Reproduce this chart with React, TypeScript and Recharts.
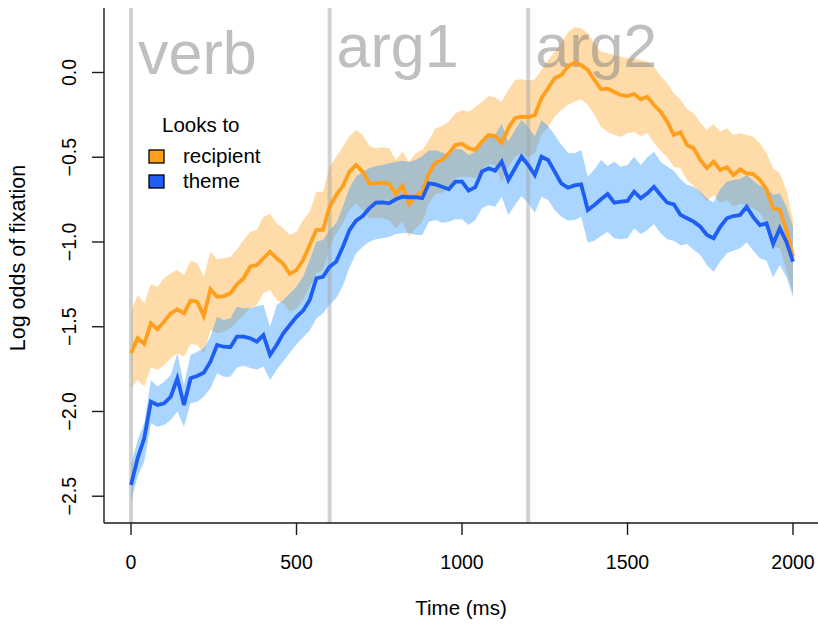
import { Area, ComposedChart, Line, ReferenceLine, XAxis, YAxis } from "recharts";

// time bins (ms)
const timeMs = [
  0, 20, 40, 60, 80, 100, 120, 140, 160, 180, 200, 220, 240, 260, 280, 300, 320, 340, 360, 380,
  400, 420, 440, 460, 480, 500, 520, 540, 560, 580, 600, 620, 640, 660, 680, 700, 720, 740, 760, 780,
  800, 820, 840, 860, 880, 900, 920, 940, 960, 980, 1000, 1020, 1040, 1060, 1080, 1100, 1120, 1140, 1160, 1180,
  1200, 1220, 1240, 1260, 1280, 1300, 1320, 1340, 1360, 1380, 1400, 1420, 1440, 1460, 1480, 1500, 1520, 1540, 1560, 1580,
  1600, 1620, 1640, 1660, 1680, 1700, 1720, 1740, 1760, 1780, 1800, 1820, 1840, 1860, 1880, 1900, 1920, 1940, 1960, 1980,
  2000,
];

const recipientMean = [
  -1.657, -1.568, -1.602, -1.48, -1.515, -1.47, -1.421, -1.397, -1.421, -1.346, -1.352, -1.437, -1.279, -1.323, -1.319, -1.303, -1.25, -1.214, -1.146, -1.136,
  -1.096, -1.057, -1.096, -1.13, -1.189, -1.165, -1.106, -1.018, -0.929, -0.929, -0.792, -0.723, -0.67, -0.585, -0.546, -0.585, -0.654, -0.654, -0.65, -0.658,
  -0.717, -0.668, -0.776, -0.729, -0.703, -0.595, -0.532, -0.516, -0.477, -0.428, -0.42, -0.447, -0.457, -0.408, -0.369, -0.375, -0.414, -0.329, -0.27, -0.261,
  -0.264, -0.251, -0.152, -0.093, -0.034, -0.015, 0.036, 0.058, 0.044, 0.015, -0.044, -0.099, -0.095, -0.115, -0.133, -0.139, -0.127, -0.158, -0.143, -0.192,
  -0.231, -0.29, -0.369, -0.352, -0.428, -0.447, -0.516, -0.565, -0.526, -0.575, -0.559, -0.605, -0.571, -0.595, -0.599, -0.634, -0.689, -0.801, -0.811, -0.929,
  -1.087,
];
const recipientUpper = [
  -1.411, -1.313, -1.362, -1.248, -1.264, -1.214, -1.185, -1.165, -1.195, -1.11, -1.126, -1.205, -1.057, -1.102, -1.096, -1.087, -1.044, -0.988, -0.939, -0.929,
  -0.851, -0.835, -0.89, -0.919, -0.959, -0.939, -0.87, -0.821, -0.703, -0.703, -0.556, -0.497, -0.438, -0.374, -0.339, -0.369, -0.434, -0.447, -0.441, -0.447,
  -0.516, -0.467, -0.526, -0.477, -0.457, -0.398, -0.329, -0.316, -0.29, -0.241, -0.223, -0.231, -0.205, -0.172, -0.139, -0.146, -0.172, -0.103, -0.044, -0.04,
  -0.048, -0.04, 0.015, 0.074, 0.123, 0.176, 0.238, 0.267, 0.261, 0.231, 0.172, 0.123, 0.113, 0.103, 0.093, 0.084, 0.084, 0.074, 0.064, 0.034,
  -0.021, -0.064, -0.123, -0.16, -0.217, -0.241, -0.296, -0.339, -0.304, -0.349, -0.329, -0.369, -0.359, -0.369, -0.379, -0.418, -0.477, -0.565, -0.595, -0.693,
  -0.87,
];
const recipientLower = [
  -1.863, -1.814, -1.853, -1.741, -1.755, -1.726, -1.686, -1.657, -1.677, -1.602, -1.608, -1.657, -1.519, -1.539, -1.529, -1.509, -1.47, -1.431, -1.391, -1.372,
  -1.303, -1.283, -1.342, -1.362, -1.411, -1.391, -1.342, -1.264, -1.185, -1.165, -1.028, -0.949, -0.89, -0.81, -0.772, -0.811, -0.86, -0.86, -0.86, -0.87,
  -0.919, -0.88, -0.969, -0.919, -0.88, -0.772, -0.717, -0.709, -0.683, -0.624, -0.615, -0.615, -0.624, -0.575, -0.54, -0.546, -0.644, -0.556, -0.497, -0.477,
  -0.497, -0.477, -0.369, -0.32, -0.261, -0.221, -0.19, -0.172, -0.158, -0.192, -0.251, -0.323, -0.349, -0.369, -0.379, -0.359, -0.349, -0.375, -0.359, -0.414,
  -0.461, -0.5, -0.556, -0.565, -0.634, -0.67, -0.713, -0.756, -0.723, -0.768, -0.752, -0.792, -0.772, -0.788, -0.801, -0.831, -0.89, -1.028, -1.037, -1.165,
  -1.303,
];

const themeMean = [
  -2.434, -2.276, -2.158, -1.942, -1.962, -1.952, -1.913, -1.804, -1.962, -1.804, -1.791, -1.771, -1.706, -1.608, -1.618, -1.621, -1.558, -1.558, -1.568, -1.588,
  -1.549, -1.667, -1.608, -1.539, -1.49, -1.441, -1.405, -1.342, -1.214, -1.205, -1.146, -1.116, -1.028, -0.93, -0.874, -0.847, -0.801, -0.768, -0.766, -0.772,
  -0.748, -0.733, -0.736, -0.736, -0.742, -0.654, -0.66, -0.674, -0.689, -0.644, -0.644, -0.697, -0.677, -0.585, -0.565, -0.579, -0.526, -0.634, -0.565, -0.497,
  -0.546, -0.605, -0.497, -0.516, -0.585, -0.654, -0.68, -0.666, -0.66, -0.811, -0.782, -0.748, -0.717, -0.768, -0.762, -0.758, -0.703, -0.742, -0.713, -0.674,
  -0.723, -0.768, -0.778, -0.84, -0.86, -0.88, -0.91, -0.959, -0.978, -0.91, -0.86, -0.847, -0.841, -0.792, -0.854, -0.9, -0.89, -1.012, -0.919, -0.998,
  -1.116,
];
const themeUpper = [
  -2.316, -2.168, -2.07, -1.814, -1.853, -1.824, -1.785, -1.657, -1.844, -1.667, -1.647, -1.627, -1.559, -1.441, -1.46, -1.45, -1.382, -1.391, -1.391, -1.378,
  -1.372, -1.5, -1.372, -1.342, -1.303, -1.264, -1.205, -1.106, -0.998, -0.988, -0.929, -0.89, -0.792, -0.68, -0.615, -0.585, -0.565, -0.552, -0.546, -0.536,
  -0.526, -0.52, -0.528, -0.516, -0.493, -0.46, -0.46, -0.47, -0.49, -0.45, -0.455, -0.487, -0.467, -0.408, -0.375, -0.369, -0.304, -0.408, -0.339, -0.28,
  -0.323, -0.375, -0.28, -0.316, -0.369, -0.428, -0.473, -0.477, -0.457, -0.615, -0.571, -0.516, -0.552, -0.526, -0.556, -0.546, -0.497, -0.546, -0.5, -0.467,
  -0.526, -0.556, -0.579, -0.63, -0.664, -0.674, -0.703, -0.742, -0.768, -0.689, -0.644, -0.634, -0.63, -0.605, -0.638, -0.67, -0.683, -0.723, -0.713, -0.792,
  -0.91,
];
const themeLower = [
  -2.532, -2.384, -2.296, -2.07, -2.09, -2.08, -2.05, -2.0, -2.09, -1.952, -1.942, -1.913, -1.863, -1.775, -1.795, -1.795, -1.74, -1.73, -1.743, -1.754,
  -1.734, -1.815, -1.754, -1.704, -1.653, -1.603, -1.562, -1.522, -1.451, -1.421, -1.371, -1.33, -1.26, -1.15, -1.067, -1.028, -0.998, -0.984, -0.978, -0.969,
  -0.953, -0.949, -0.945, -0.959, -0.959, -0.88, -0.87, -0.886, -0.88, -0.866, -0.866, -0.9, -0.87, -0.801, -0.782, -0.792, -0.733, -0.841, -0.782, -0.729,
  -0.772, -0.827, -0.733, -0.752, -0.811, -0.851, -0.873, -0.87, -0.851, -1.004, -0.992, -0.965, -0.939, -0.978, -0.984, -0.978, -0.919, -0.953, -0.929, -0.894,
  -0.949, -0.984, -0.992, -1.02, -1.012, -1.047, -1.077, -1.136, -1.175, -1.116, -1.067, -1.051, -1.037, -1.002, -1.051, -1.096, -1.11, -1.208, -1.136, -1.205,
  -1.323,
];

const xTicks = [0, 500, 1000, 1500, 2000];
const yTicks = [-2.5, -2, -1.5, -1, -0.5, 0];

const phaseStarts = [0, 600, 1200];
const phaseNames = ["verb", "arg1", "arg2"];

const legendItems = [
  { name: "recipient", color: "#FF9F1C" },
  { name: "theme", color: "#1F5EF5" },
];

const FONT = '"Liberation Sans", Arial, Helvetica, sans-serif';

const rows = timeMs.map((t, i) => ({
  t,
  recipient: recipientMean[i],
  recipientBand: [recipientLower[i], recipientUpper[i]],
  theme: themeMean[i],
  themeBand: [themeLower[i], themeUpper[i]],
}));

const fmtY = (v: number) => (v < 0 ? "\u2212" : "") + Math.abs(v).toFixed(1);

function XTick({ x, y, payload }: any) {
  return (
    <text x={x} y={y + 32} textAnchor="middle" fontSize={19.5} fontFamily={FONT} fill="#000">
      {payload.value}
    </text>
  );
}

function YTick({ x, y, payload }: any) {
  const bx = x - 14;
  return (
    <text
      x={bx}
      y={y}
      transform={`rotate(-90, ${bx}, ${y})`}
      textAnchor="middle"
      fontSize={19.5}
      fontFamily={FONT}
      fill="#000"
    >
      {fmtY(payload.value)}
    </text>
  );
}

function PhaseLabel({ viewBox, name }: any) {
  if (!viewBox) return null;
  // names with a descender sit a little higher (R centres the text box)
  const base = /[gjpqy]/.test(name) ? 59 : 66;
  return (
    <text
      x={viewBox.x + 7}
      y={viewBox.y + base}
      fontSize={61}
      fontFamily={FONT}
      fill="#7f7f7f"
      fillOpacity={0.5}
    >
      {name}
    </text>
  );
}

function LooksToLegend() {
  return (
    <svg
      width={130}
      height={80}
      style={{ position: "absolute", left: 139, top: 108, overflow: "visible" }}
    >
      <text x={23} y={24} fontSize={20.5} fontFamily={FONT} fill="#000">
        Looks to
      </text>
      {legendItems.map((item, i) => (
        <g key={item.name}>
          <rect
            x={10}
            y={42 + i * 25}
            width={15}
            height={13}
            fill={item.color}
            stroke="#000"
            strokeWidth={1.3}
          />
          <text x={44} y={55 + i * 25} fontSize={20.5} fontFamily={FONT} fill="#000">
            {item.name}
          </text>
        </g>
      ))}
    </svg>
  );
}

export default function App() {
  return (
    <div
      style={{
        position: "absolute",
        left: 0,
        top: 0,
        width: 818,
        height: 624,
        background: "#fff",
        fontFamily: FONT,
      }}
    >
      <ComposedChart
        width={818}
        height={624}
        data={rows}
        margin={{ top: 8, right: 0, bottom: 0, left: 0 }}
      >
        <XAxis
          dataKey="t"
          type="number"
          domain={[-81.6, 2075.5]}
          ticks={xTicks}
          interval={0}
          height={101}
          tickSize={12}
          axisLine={{ stroke: "#1a1a1a", strokeWidth: 1.4 }}
          tickLine={{ stroke: "#1a1a1a", strokeWidth: 1.4 }}
          tick={<XTick />}
          label={(props: any) => {
            const vb = props.viewBox;
            return (
              <text
                x={vb.x + vb.width / 2}
                y={vb.y + 92}
                textAnchor="middle"
                fontSize={20.5}
                fontFamily={FONT}
                fill="#000"
              >
                Time (ms)
              </text>
            );
          }}
        />
        <YAxis
          type="number"
          domain={[-2.658, 0.3805]}
          ticks={yTicks}
          interval={0}
          width={104}
          tickSize={12}
          axisLine={{ stroke: "#1a1a1a", strokeWidth: 1.4 }}
          tickLine={{ stroke: "#1a1a1a", strokeWidth: 1.4 }}
          tick={<YTick />}
          label={() => {
            const cy = 258;
            return (
              <text
                x={25}
                y={cy}
                transform={`rotate(-90, 25, ${cy})`}
                textAnchor="middle"
                fontSize={21.5}
                fontFamily={FONT}
                fill="#000"
              >
                Log odds of fixation
              </text>
            );
          }}
        />

        {phaseStarts.map((t, i) => (
          <ReferenceLine
            key={phaseNames[i]}
            x={t}
            stroke="#a6a6a6"
            strokeOpacity={0.5}
            strokeWidth={4}
            label={<PhaseLabel name={phaseNames[i]} />}
          />
        ))}

        <Area
          dataKey="recipientBand"
          type="linear"
          stroke="none"
          fill="#FFA528"
          fillOpacity={0.4}
          dot={false}
          activeDot={false}
          isAnimationActive={false}
        />
        <Area
          dataKey="themeBand"
          type="linear"
          stroke="none"
          fill="#1E90FF"
          fillOpacity={0.38}
          dot={false}
          activeDot={false}
          isAnimationActive={false}
        />
        <Line
          dataKey="recipient"
          type="linear"
          stroke={legendItems[0].color}
          strokeWidth={3.8}
          dot={false}
          activeDot={false}
          isAnimationActive={false}
        />
        <Line
          dataKey="theme"
          type="linear"
          stroke={legendItems[1].color}
          strokeWidth={3.8}
          dot={false}
          activeDot={false}
          isAnimationActive={false}
        />
      </ComposedChart>
      <LooksToLegend />
    </div>
  );
}
